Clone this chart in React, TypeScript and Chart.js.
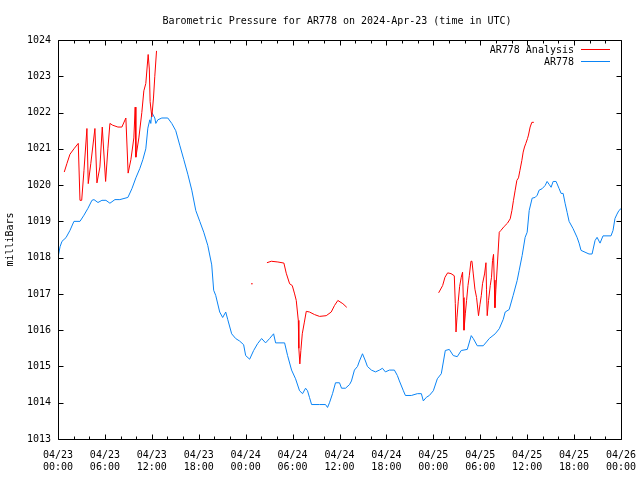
import React, { useEffect, useRef } from "react";
import { Chart, registerables } from "chart.js";

Chart.register(...registerables);

// ---- Data (hours since 2024-04-23 00:00 UTC) ----
const stationHours = [
  0, 0.26, 0.51, 1.02, 1.53, 2.04, 2.81, 3.32, 3.83, 4.34, 4.6, 5.11, 5.62, 6.13, 6.64, 7.28, 7.91, 8.94,
  9.45, 9.96, 10.47, 10.85, 11.23, 11.49, 11.74, 11.87, 12.0, 12.38, 12.51, 12.77, 13.28, 14.04, 14.55,
  15.06, 15.57, 16.09, 16.6, 17.11, 17.62, 18.13, 18.64, 19.15, 19.66, 19.91, 20.17, 20.68, 21.06, 21.45,
  21.7, 22.21, 22.72, 23.23, 23.74, 24.0, 24.51, 25.02, 25.53, 26.04, 26.55, 27.06, 27.57, 27.83, 28.98,
  29.36, 29.87, 30.38, 30.89, 31.28, 31.66, 31.91, 32.17, 32.43, 33.45, 34.21, 34.47, 34.72, 35.11, 35.49,
  36.0, 36.26, 36.77, 37.28, 37.53, 37.91, 38.3, 38.55, 38.94, 39.32, 39.57, 40.08, 40.6, 41.11, 41.49,
  41.87, 42.38, 43.02, 43.4, 43.66, 44.17, 44.43, 45.19, 45.96, 46.47, 46.72, 47.11, 47.49, 48.0, 48.51,
  49.02, 49.53, 50.04, 50.55, 51.06, 51.57, 52.34, 52.85, 53.11, 53.62, 54.38, 54.89, 55.15, 55.91, 56.43,
  56.94, 57.19, 57.7, 58.21, 58.72, 58.98, 59.36, 59.74, 60.0, 60.26, 60.64, 61.02, 61.28, 61.53, 61.91,
  62.3, 62.55, 62.81, 63.06, 63.32, 63.7, 64.09, 64.34, 64.6, 64.85, 65.11, 65.36, 65.87, 66.38, 66.64,
  66.89, 67.4, 67.91, 68.3, 68.68, 68.94, 69.32, 69.7, 70.72, 70.98, 71.23, 71.49, 71.74, 72,
];
const stationValues = [
  1018.0, 1018.3, 1018.45, 1018.55, 1018.75, 1019.0, 1019.0, 1019.17, 1019.36, 1019.58, 1019.6, 1019.52,
  1019.58, 1019.58, 1019.5, 1019.6, 1019.6, 1019.66, 1019.9, 1020.2, 1020.46, 1020.7, 1021.0, 1021.57,
  1021.8, 1021.7, 1022.0, 1021.85, 1021.7, 1021.8, 1021.85, 1021.85, 1021.7, 1021.5, 1021.1, 1020.7,
  1020.3, 1019.86, 1019.3, 1019.0, 1018.7, 1018.34, 1017.8, 1017.1, 1016.96, 1016.5, 1016.35, 1016.5,
  1016.3, 1015.9, 1015.77, 1015.7, 1015.6, 1015.3, 1015.2, 1015.44, 1015.63, 1015.77, 1015.65, 1015.77,
  1015.9, 1015.65, 1015.65, 1015.3, 1014.9, 1014.66, 1014.33, 1014.25, 1014.4, 1014.33, 1014.14, 1013.95,
  1013.95, 1013.95, 1013.87, 1014.0, 1014.25, 1014.55, 1014.55, 1014.4, 1014.4, 1014.5, 1014.6, 1014.9,
  1015.0, 1015.15, 1015.35, 1015.15, 1015.0, 1014.9, 1014.85, 1014.9, 1014.95, 1014.85, 1014.9, 1014.9,
  1014.75, 1014.6, 1014.33, 1014.2, 1014.2, 1014.25, 1014.25, 1014.05, 1014.15, 1014.2, 1014.33, 1014.66,
  1014.8, 1015.44, 1015.47, 1015.3, 1015.27, 1015.44, 1015.47, 1015.85, 1015.77, 1015.57, 1015.57, 1015.7,
  1015.77, 1015.9, 1016.04, 1016.3, 1016.5, 1016.57, 1016.96, 1017.37, 1017.65, 1018.06, 1018.56, 1018.7,
  1019.3, 1019.64, 1019.66, 1019.72, 1019.86, 1019.9, 1019.99, 1020.1, 1020.02, 1019.94, 1020.1, 1020.1,
  1019.9, 1019.77, 1019.77, 1019.5, 1019.25, 1019.0, 1018.8, 1018.56, 1018.4, 1018.2, 1018.15, 1018.1,
  1018.1, 1018.47, 1018.56, 1018.4, 1018.6, 1018.6, 1018.75, 1019.08, 1019.2, 1019.3, 1019.35,
];

// Analysis series; null = gap
const analysisHours = [
  0.8, 1.15, 1.53, 2.04, 2.59, 2.81, 3.03, 3.32, 3.7, 3.87, 4.2, 4.72, 4.98, 5.36, 5.66, 6.09, 6.38, 6.64,
  7.0, 7.66, 8.17, 8.68, 8.97, 9.32, 9.7, 9.87, 9.96, 10.34, 10.72, 10.98, 11.23, 11.53, 11.68, 11.78, 12.0,
  12.21, 12.38, 12.6,
  18,
  24.8,
  25.5,
  26.72, 27.28, 28.12, 28.89, 29.19, 29.62, 29.96, 30.26, 30.47, 30.73, 30.8, 30.93, 31.06, 31.24, 31.49,
  31.75, 32.17, 32.81, 33.45, 34.3, 34.94, 35.36, 35.79, 36.43, 36.93,
  42,
  48.68, 49.19, 49.49, 49.83, 50.26, 50.68, 50.81, 50.9, 51.03, 51.19, 51.36, 51.57, 51.74, 51.83, 51.92,
  52.09, 52.25, 52.43, 52.6, 52.81, 52.94, 53.11, 53.32, 53.53, 53.78, 53.96, 54.13, 54.29, 54.55, 54.73,
  54.8, 54.89, 55.06, 55.28, 55.44, 55.57, 55.7, 55.79, 55.88, 56.0, 56.21, 56.43, 56.64, 57.06, 57.48,
  57.83, 58.05, 58.25, 58.47, 58.68, 58.89, 59.07, 59.32, 59.49, 59.66, 59.83, 60.04, 60.17, 60.38, 60.6,
  60.85,
];
const analysisValues = [
  1020.36, 1020.6, 1020.85, 1021.0, 1021.15, 1019.58, 1019.58, 1020.4, 1021.56, 1020.04, 1020.6, 1021.56,
  1020.06, 1020.5, 1021.6, 1020.1, 1021.0, 1021.7, 1021.65, 1021.6, 1021.6, 1021.85, 1020.33, 1020.7,
  1021.3, 1022.15, 1020.77, 1021.3, 1022.0, 1022.6, 1022.8, 1023.6, 1023.2, 1022.3, 1021.88, 1022.4,
  1023.0, 1023.7,
  null,
  1017.28,
  null,
  1017.86, 1017.9, 1017.88, 1017.85, 1017.57, 1017.28, 1017.23, 1017.0, 1016.82, 1016.27, 1015.5, 1015.07,
  1015.44, 1015.9, 1016.2, 1016.52, 1016.5, 1016.43, 1016.38, 1016.4, 1016.5, 1016.68, 1016.82, 1016.73,
  1016.63,
  null,
  1017.03, 1017.23, 1017.46, 1017.58, 1017.56, 1017.5, 1016.73, 1015.95, 1016.36, 1016.8, 1017.2, 1017.46,
  1017.6, 1016.9, 1016.0, 1016.45, 1016.82, 1017.23, 1017.5, 1017.9, 1017.9, 1017.55, 1017.13, 1016.9,
  1016.4, 1016.7, 1016.95, 1017.28, 1017.55, 1017.86, 1017.13, 1016.4, 1016.82, 1017.23, 1017.46, 1017.92,
  1018.09, 1017.38, 1016.62, 1017.13, 1017.88, 1018.7, 1018.75, 1018.86, 1018.95, 1019.07, 1019.3, 1019.58,
  1019.86, 1020.13, 1020.2, 1020.4, 1020.68, 1020.91, 1021.05, 1021.15, 1021.28, 1021.38, 1021.6, 1021.73,
  1021.73,
];

const xDateLabels = ["04/23", "04/23", "04/23", "04/23", "04/24", "04/24", "04/24", "04/24", "04/25", "04/25", "04/25", "04/25", "04/26"];
const xTimeLabels = ["00:00", "06:00", "12:00", "18:00", "00:00", "06:00", "12:00", "18:00", "00:00", "06:00", "12:00", "18:00", "00:00"];

const TITLE = "Barometric Pressure for AR778 on 2024-Apr-23 (time in UTC)";
const Y_TITLE = "milliBars";
const SERIES_NAMES = ["AR778 Analysis", "AR778"];
const COLORS = ["#ff0000", "#0a84f5"];
const FONT = "DejaVu Sans Mono";

const framePlugin = {
  id: "gnuframe",
  afterDraw(chart: any) {
    const ctx = chart.ctx as CanvasRenderingContext2D;
    const { left, right, top, bottom } = chart.chartArea;
    const xs = chart.scales.x;
    const ys = chart.scales.y;
    ctx.save();
    ctx.strokeStyle = "#000";
    ctx.lineWidth = 1;
    const L = Math.round(left) + 0.5;
    const R = Math.round(right) + 0.5;
    const T = Math.round(top) + 0.5;
    const B = Math.round(bottom) + 0.5;
    ctx.beginPath();
    ctx.rect(L, T, R - L, B - T);
    // x ticks every 2h, major every 6h
    for (let h = 0; h <= 72; h += 2) {
      const px = Math.round(xs.getPixelForValue(h)) + 0.5;
      const len = h % 6 === 0 ? 5 : 3;
      ctx.moveTo(px, B);
      ctx.lineTo(px, B - len);
      ctx.moveTo(px, T);
      ctx.lineTo(px, T + len);
    }
    for (let v = 1013; v <= 1024; v++) {
      const py = Math.round(ys.getPixelForValue(v)) + 0.5;
      ctx.moveTo(L, py);
      ctx.lineTo(L + 5, py);
      ctx.moveTo(R, py);
      ctx.lineTo(R - 5, py);
    }
    ctx.stroke();

    ctx.fillStyle = "#000";
    ctx.font = `10px "${FONT}"`;
    ctx.textBaseline = "middle";
    ctx.textAlign = "center";
    ctx.fillText(TITLE, 337, 21);

    ctx.save();
    ctx.translate(10, (top + bottom) / 2);
    ctx.rotate(-Math.PI / 2);
    ctx.fillText(Y_TITLE, 0, 0);
    ctx.restore();

    ctx.textAlign = "right";
    const rows = [49.5, 61.5];
    SERIES_NAMES.forEach((name, i) => {
      ctx.fillStyle = "#000";
      ctx.fillText(name, 574, rows[i] + 1);
      ctx.strokeStyle = COLORS[i];
      ctx.beginPath();
      ctx.moveTo(581, rows[i]);
      ctx.lineTo(610, rows[i]);
      ctx.stroke();
    });
    ctx.restore();
  },
};

export default function App() {
  const ref = useRef<HTMLCanvasElement | null>(null);
  useEffect(() => {
    if (!ref.current) return;
    const analysisData = analysisHours.map((h, i) => ({ x: h, y: analysisValues[i] }));
    const stationData = stationHours.map((h, i) => ({ x: h, y: stationValues[i] }));
    const chart = new Chart(ref.current, {
      type: "line",
      data: {
        datasets: [
          {
            label: SERIES_NAMES[0],
            data: analysisData as any,
            borderColor: COLORS[0],
            backgroundColor: COLORS[0],
            borderWidth: 1,
            tension: 0,
            spanGaps: false,
            pointRadius: (c: any) => {
              const d = c.dataset.data;
              const i = c.dataIndex;
              const prev = d[i - 1];
              const next = d[i + 1];
              const iso = (!prev || prev.y == null) && (!next || next.y == null);
              return iso ? 0.8 : 0;
            },
            pointBorderWidth: 0,
          },
          {
            label: SERIES_NAMES[1],
            data: stationData as any,
            borderColor: COLORS[1],
            backgroundColor: COLORS[1],
            borderWidth: 1,
            tension: 0,
            pointRadius: 0,
          },
        ],
      },
      options: {
        animation: false,
        responsive: false,
        layout: { padding: { top: 40, right: 19, left: 0, bottom: 0 } },
        plugins: {
          legend: { display: false },
          title: { display: false },
          tooltip: { enabled: false },
        },
        scales: {
          x: {
            type: "linear",
            min: 0,
            max: 72,
            grid: { display: false, drawTicks: false },
            border: { display: false },
            afterFit: (s: any) => {
              s.height = 41;
              s.paddingLeft = 0;
              s.paddingRight = 0;
            },
            afterBuildTicks: (s: any) => {
              s.ticks = xDateLabels.map((_, i) => ({ value: i * 6 }));
            },
            ticks: {
              autoSkip: false,
              maxRotation: 0,
              minRotation: 0,
              padding: 10,
              color: "#000",
              font: { family: FONT, size: 10 },
              callback: (v: any) => {
                const i = Math.round(Number(v) / 6);
                return [xDateLabels[i], xTimeLabels[i]];
              },
            },
          },
          y: {
            type: "linear",
            min: 1013,
            max: 1024,
            grid: { display: false, drawTicks: false },
            border: { display: false },
            afterFit: (s: any) => {
              s.width = 58;
              s.paddingTop = 0;
              s.paddingBottom = 0;
            },
            ticks: {
              stepSize: 1,
              padding: 7,
              color: "#000",
              font: { family: FONT, size: 10 },
              callback: (v: any) => String(v),
            },
          },
        },
      },
      plugins: [framePlugin],
    });
    return () => chart.destroy();
  }, []);
  return (
    <div style={{ position: "absolute", left: 0, top: 0, width: 640, height: 480, background: "#fff" }}>
      <canvas ref={ref} width={640} height={480} style={{ display: "block" }} />
    </div>
  );
}
